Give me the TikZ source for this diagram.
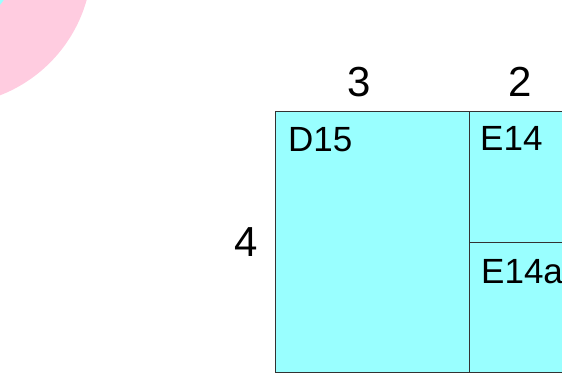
\documentclass[tikz,border=0pt]{standalone}
\usepackage{fontspec}
\setmainfont{Liberation Sans}
\definecolor{plotpink}{HTML}{FFCCE0}
\definecolor{plotcyan}{HTML}{99FFFF}
\definecolor{plotline}{HTML}{333333}
\tikzset{
    plot/.style={fill=plotcyan, draw=plotline, line width=1pt},
    plotname/.style={anchor=base west, inner sep=0pt, font=\fontsize{35}{42}\selectfont},
    sidelen/.style={anchor=base, inner sep=0pt, font=\fontsize{42}{50}\selectfont}
}
\begin{document}
\begin{tikzpicture}[x=1pt, y=-1pt]
    \useasboundingbox (0,0) rectangle (562,382);
    \fill[plotpink] (-52,-39) circle (144);
    \fill[plotcyan] (-52,-39) circle (68);
    \draw[plot] (275,112) rectangle (469,372);
    \draw[plot] (469,112) rectangle (575,242);
    \draw[plot] (469,242) rectangle (575,372);
    \node[plotname] (d15) at (288,152) {D15};
    \node[plotname] (e14) at (480,151) {E14};
    \node[plotname] (e14a) at (481,283) {E14a};
    \node[sidelen] (width3) at (359,97) {3};
    \node[sidelen] (width2) at (520,97) {2};
    \node[sidelen] (height4) at (246,256) {4};
\end{tikzpicture}
\end{document}
